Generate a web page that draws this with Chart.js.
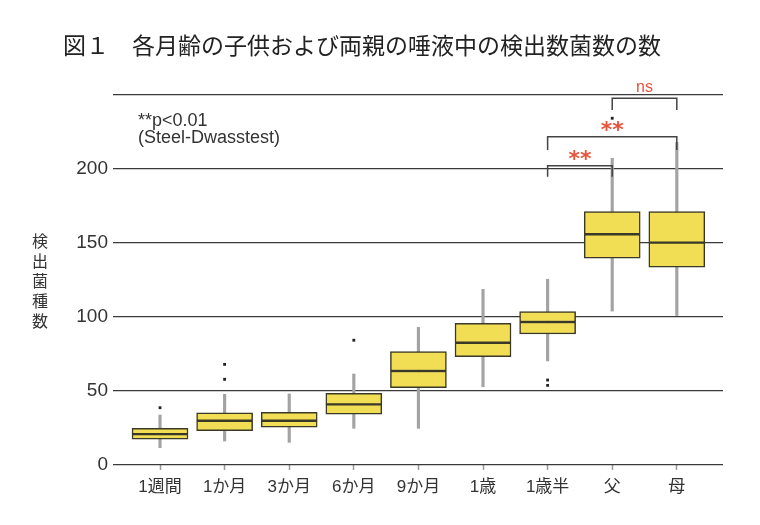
<!DOCTYPE html>
<html><head><meta charset="utf-8">
<script src="https://cdn.jsdelivr.net/npm/chart.js@4"></script>
<style>html,body{margin:0;padding:0;background:#fff}#wrap{width:760px;height:525px}</style>
</head><body><div id="wrap"><canvas id="c" width="760" height="525"></canvas></div>
<script>
const titleText = '図１　各月齢の子供および両親の唾液中の検出数菌数の数';
const yTitle = '検出菌種数';
const noteLines = ['**p<0.01', '(Steel-Dwasstest)'];
const categories = ['1週間','1か月','3か月','6か月','9か月','1歳','1歳半','父','母'];
const whiskerLow  = [11.7, 16.2, 15.3, 24.8, 24.8, 52.9, 70.3, 104.0, 101.0];
const q1          = [17.4, 23.2, 25.5, 34.3, 52.2, 73.2, 88.5, 139.7, 133.6];
const median      = [20.9, 29.9, 29.9, 41.0, 63.5, 82.6, 96.6, 155.9, 150.2];
const q3          = [24.8, 35.3, 35.6, 48.4, 76.6, 95.7, 103.6, 171.2, 171.2];
const whiskerHigh = [33.8, 47.8, 48.0, 61.5, 93.0, 118.7, 125.5, 207.2, 218.0];
const outlierIdx  = [0, 1, 1, 3, 6, 6, 7];
const outlierVal  = [38.7, 68.0, 57.9, 84.3, 57.4, 53.8, 234.3];
const yTicks = [0, 50, 100, 150, 200];
const bracketFrom  = [6, 6, 7];
const bracketTo    = [7, 8, 8];
const bracketTop   = [202.2, 221.8, 247.8];
const bracketDrop  = [194.8, 212.8, 239.9];
const bracketLabel = ['**', '**', 'ns'];

Chart.defaults.font.family = "'Liberation Sans', 'Noto Sans CJK JP', sans-serif";
Chart.defaults.color = '#333';

const boxFill = '#f1de55', boxLine = '#3a3826', whiskerCol = '#a3a3a3';
const idx = categories.map((_, i) => i);

const datasets = [];
datasets.push({type:'scatter', order:0, data: outlierIdx.map((i, k) => ({x:i, y:outlierVal[k]})),
  pointStyle:'rect', pointRadius:2, backgroundColor:'#222', borderWidth:0});
bracketFrom.forEach((f, k) => {
  datasets.push({type:'line', order:0, data:[{x:f,y:bracketDrop[k]},{x:f,y:bracketTop[k]},{x:bracketTo[k],y:bracketTop[k]},{x:bracketTo[k],y:bracketDrop[k]}],
    borderColor:'#444', borderWidth:1.5, pointRadius:0, fill:false, tension:0});
});
datasets.push({type:'bar', order:1, grouped:false, data: idx.map(i => ({x:i, y:[q1[i], median[i]]})),
  backgroundColor:boxFill, borderColor:boxLine, borderWidth:1.5, borderSkipped:false, barThickness:56});
datasets.push({type:'bar', order:1, grouped:false, data: idx.map(i => ({x:i, y:[median[i], q3[i]]})),
  backgroundColor:boxFill, borderColor:boxLine, borderWidth:1.5, borderSkipped:false, barThickness:56});
datasets.push({type:'bar', order:3, grouped:false, data: idx.map(i => ({x:i, y:[whiskerLow[i], whiskerHigh[i]]})),
  backgroundColor:whiskerCol, borderWidth:0, barThickness:2.5});

const annot = {
  id:'annot',
  afterDraw(chart) {
    const ctx = chart.ctx, xs = chart.scales.x, ys = chart.scales.y;
    ctx.save();
    ctx.fillStyle = '#222';
    ctx.textBaseline = 'middle';
    ctx.textAlign = 'left';
    ctx.font = "23px 'Noto Sans CJK JP'";
    ctx.fillText(titleText, 63, 45);
    ctx.font = "16px 'Noto Sans CJK JP'";
    ctx.textAlign = 'center';
    ctx.fillStyle = '#333';
    [...yTitle].forEach((ch, k) => ctx.fillText(ch, 40, 241 + k * 20));
    ctx.textAlign = 'left';
    ctx.font = "18px 'Liberation Sans'";
    noteLines.forEach((t, k) => ctx.fillText(t, 138, 121 + k * 17));
    ctx.textAlign = 'center';
    ctx.fillStyle = '#e5553c';
    bracketLabel.forEach((t, k) => {
      const x = (xs.getPixelForValue(bracketFrom[k]) + xs.getPixelForValue(bracketTo[k])) / 2;
      const y = ys.getPixelForValue(bracketTop[k]);
      if (t === 'ns') { ctx.font = "16px 'Liberation Sans'"; ctx.fillText(t, x, y - 11); }
      else { ctx.font = "bold 22px 'DejaVu Sans'"; ctx.fillText(t, x, y - 5); }
    });
    ctx.restore();
  }
};

new Chart(document.getElementById('c'), {
  type:'bar',
  data:{datasets},
  options:{
    responsive:false, animation:false,
    layout:{padding:{top:95, right:37, left:0, bottom:0}},
    plugins:{legend:{display:false}, tooltip:{enabled:false}, title:{display:false}},
    scales:{
      x:{type:'linear', offset:false, min:-0.728, max:8.715,
        afterBuildTicks:s => { s.ticks = idx.map(i => ({value:i})); },
        afterFit:s => { s.height = 60; },
        ticks:{callback:v => categories[v] ?? '', autoSkip:false, maxRotation:0, padding:7, font:{size:17}, color:'#333'},
        grid:{display:true, offset:false, drawOnChartArea:false, drawTicks:true, tickLength:5, tickColor:'#999', tickWidth:1.5},
        border:{display:false}},
      y:{min:0, max:250,
        afterBuildTicks:s => { s.ticks = yTicks.concat([250]).map(v => ({value:v})); },
        afterFit:s => { s.width = 113; },
        ticks:{callback:v => yTicks.includes(v) ? String(v) : '', padding:5, font:{size:19}, color:'#333'},
        grid:{color:'#3a3a3a', lineWidth:1.3, drawTicks:false},
        border:{display:false}}
    }
  },
  plugins:[annot]
});
</script></body></html>
